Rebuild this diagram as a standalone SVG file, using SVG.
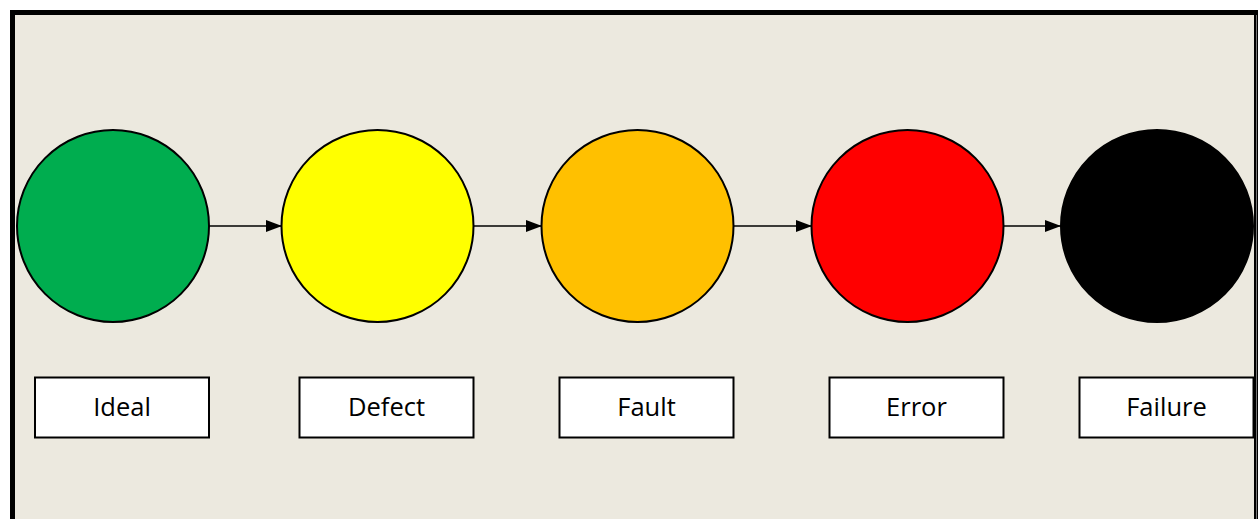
<svg xmlns="http://www.w3.org/2000/svg" width="1258" height="519" viewBox="0 0 1258 519">
<style>
.node circle{stroke:#000;stroke-width:2}
.label rect{fill:#fff;stroke:#000;stroke-width:2}
.label text{font-family:"Open Sans","Liberation Sans",sans-serif;font-size:25.5px;fill:#000;text-anchor:middle}
.conn line{stroke:#000;stroke-width:1.5;marker-end:url(#arr)}
</style>
<defs>
<marker id="arr" markerWidth="16" markerHeight="12" refX="16" refY="6" orient="auto" markerUnits="userSpaceOnUse">
<path d="M0,0 L16,6 L0,12 Z" fill="#000"/>
</marker>
</defs>
<rect x="0" y="0" width="1258" height="519" fill="#fff"/>
<rect x="12.5" y="12.5" width="1244" height="520" fill="#ECE9DF" stroke="#000" stroke-width="5"/>
<line x1="1256.5" y1="15" x2="1256.5" y2="519" stroke="#777" stroke-width="1"/>
<g class="conn">
<line x1="209" y1="226" x2="282" y2="226"/>
<line x1="473" y1="226" x2="542" y2="226"/>
<line x1="733" y1="226" x2="812" y2="226"/>
<line x1="1003" y1="226" x2="1061" y2="226"/>
</g>
<g id="ideal" class="node"><circle cx="113" cy="226" r="96" fill="#00AD4F"/></g>
<g id="defect" class="node"><circle cx="377.5" cy="226" r="96" fill="#FFFF00"/></g>
<g id="fault" class="node"><circle cx="637.5" cy="226" r="96" fill="#FFC000"/></g>
<g id="error" class="node"><circle cx="907.5" cy="226" r="96" fill="#FF0000"/></g>
<g id="failure" class="node"><circle cx="1157" cy="226" r="96" fill="#000"/></g>
<g id="label-ideal" class="label"><rect x="35" y="377.5" width="174" height="60"/><text x="122" y="416">Ideal</text></g>
<g id="label-defect" class="label"><rect x="299.5" y="377.5" width="174" height="60"/><text x="386.5" y="416">Defect</text></g>
<g id="label-fault" class="label"><rect x="559.5" y="377.5" width="174" height="60"/><text x="646.5" y="416">Fault</text></g>
<g id="label-error" class="label"><rect x="829.5" y="377.5" width="174" height="60"/><text x="916.5" y="416">Error</text></g>
<g id="label-failure" class="label"><rect x="1079.5" y="377.5" width="174" height="60"/><text x="1166.5" y="416">Failure</text></g>
</svg>
